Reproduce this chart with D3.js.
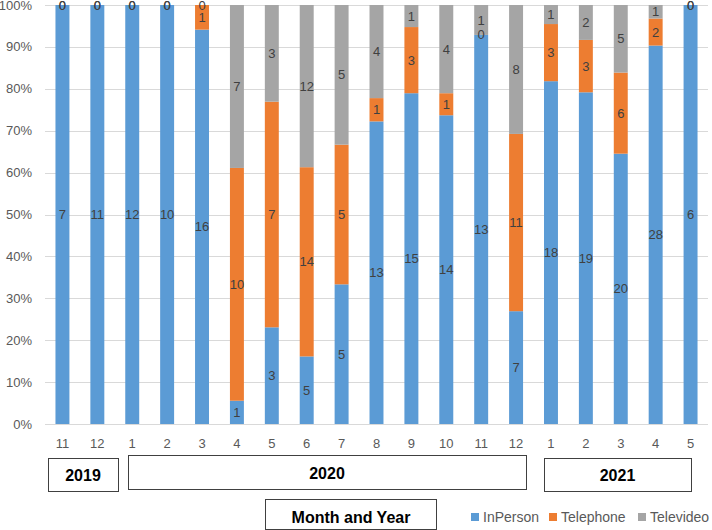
<!DOCTYPE html>
<html><head><meta charset="utf-8">
<script src="https://cdn.jsdelivr.net/npm/d3@7"></script>
<style>body{margin:0;background:#fff}svg{display:block}</style>
</head><body>
<svg id="c" width="712" height="530"></svg>
<script>
const keys = ["2019-11","2019-12","2020-1","2020-2","2020-3","2020-4","2020-5","2020-6","2020-7","2020-8","2020-9","2020-10","2020-11","2020-12","2021-1","2021-2","2021-3","2021-4","2021-5"];
const months = ["11","12","1","2","3","4","5","6","7","8","9","10","11","12","1","2","3","4","5"];
const inPerson  = [7,11,12,10,16,1,3,5,5,13,15,14,13,7,18,19,20,28,6];
const telephone = [0,0,0,0,1,10,7,14,5,1,3,1,0,11,3,3,6,2,0];
const televideo = [0,0,0,0,0,7,3,12,5,4,1,4,1,8,1,2,5,1,0];
const seriesNames = ["InPerson","Telephone","Televideo"];
const colors = ["#5B9BD5","#ED7D31","#A5A5A5"];
const yTicks = [0,0.1,0.2,0.3,0.4,0.5,0.6,0.7,0.8,0.9,1];
const yearLabels = ["2019","2020","2021"];
const yearFirst = [0,2,14];
const yearLast = [1,13,18];
const xTitle = "Month and Year";

const svg = d3.select("#c");
const font = "'Liberation Sans', Arial, sans-serif";

const rows = keys.map((k,i)=>{
  const tot = inPerson[i]+telephone[i]+televideo[i];
  return {key:k, InPerson:inPerson[i]/tot, Telephone:telephone[i]/tot, Televideo:televideo[i]/tot,
          raw:{InPerson:inPerson[i],Telephone:telephone[i],Televideo:televideo[i]}};
});
const stacked = d3.stack().keys(seriesNames)(rows);

const x = d3.scaleBand().domain(keys).range([45,708]).paddingInner(0.6).paddingOuter(0.3);
const y = d3.scaleLinear().domain([0,1]).range([424,5]);
const cx = k => x(k)+x.bandwidth()/2;

// gridlines
svg.append("g").selectAll("line").data(yTicks).join("line")
  .attr("x1",45).attr("x2",708).attr("y1",d=>Math.round(y(d))+0.5).attr("y2",d=>Math.round(y(d))+0.5)
  .attr("stroke","#D9D9D9").attr("stroke-width",1);

// y labels
svg.append("g").selectAll("text").data(yTicks).join("text")
  .attr("x",32).attr("y",d=>y(d)).attr("dy","0.35em").attr("text-anchor","end")
  .attr("font-family",font).attr("font-size",13).attr("fill","#595959")
  .text(d3.format(".0%"));

// bars
const gs = svg.append("g").selectAll("g").data(stacked).join("g").attr("fill",(d,i)=>colors[i]);
gs.selectAll("rect").data(d=>d).join("rect")
  .attr("x",d=>x(d.data.key)).attr("width",x.bandwidth())
  .attr("y",d=>y(d[1])).attr("height",d=>y(d[0])-y(d[1]));

// data labels
const lg = svg.append("g");
stacked.forEach(s=>{
  lg.selectAll(null).data(s).join("text")
    .attr("x",d=>cx(d.data.key))
    .attr("y",d=>y((d[0]+d[1])/2)).attr("dy","0.35em").attr("text-anchor","middle")
    .attr("font-family",font).attr("font-size",13).attr("fill","#404040")
    .text(d=>d.data.raw[s.key]);
});

// x tick labels
svg.append("g").selectAll("text").data(keys).join("text")
  .attr("x",d=>cx(d)).attr("y",443).attr("dy","0.35em").attr("text-anchor","middle")
  .attr("font-family",font).attr("font-size",13).attr("fill","#595959")
  .text((d,i)=>months[i]);

// year boxes (hand-drawn annotation boxes, offsets relative to first/last bar centres)
const boxGeom = [
  {l:-14.5, r:20.6, top:458, bot:491},
  {l:-4, r:10, top:455, bot:489},
  {l:-7, r:0.3, top:458, bot:491}
];
const yb = svg.append("g");
yearLabels.forEach((lab,i)=>{
  const g = boxGeom[i];
  const x0 = Math.round(cx(keys[yearFirst[i]]) + g.l);
  const x1 = Math.round(cx(keys[yearLast[i]]) + g.r);
  yb.append("rect").attr("x",x0+0.5).attr("y",g.top+0.5).attr("width",x1-x0).attr("height",g.bot-g.top)
    .attr("fill","#fff").attr("stroke","#404040").attr("stroke-width",1);
  yb.append("text").attr("x",(x0+x1)/2).attr("y",(g.top+g.bot)/2+1).attr("dy","0.35em").attr("text-anchor","middle")
    .attr("font-family",font).attr("font-size",16).attr("font-weight","bold").attr("fill","#000")
    .text(lab);
});

// axis title box
svg.append("rect").attr("x",265.5).attr("y",499.5).attr("width",171).attr("height",30)
  .attr("fill","#fff").attr("stroke","#404040");
svg.append("text").attr("x",351).attr("y",517).attr("dy","0.35em").attr("text-anchor","middle")
  .attr("font-family",font).attr("font-size",16).attr("font-weight","bold").attr("fill","#000").text(xTitle);

// legend
const legX = [471,549,638];
const leg = svg.append("g").selectAll("g").data(seriesNames).join("g")
  .attr("transform",(d,i)=>`translate(${legX[i]},517)`);
leg.append("rect").attr("x",0).attr("y",-4).attr("width",8).attr("height",8).attr("fill",(d,i)=>colors[i]);
leg.append("text").attr("x",12).attr("y",0).attr("dy","0.35em")
  .attr("font-family",font).attr("font-size",14).attr("fill","#595959").text(d=>d);
</script>
</body></html>
